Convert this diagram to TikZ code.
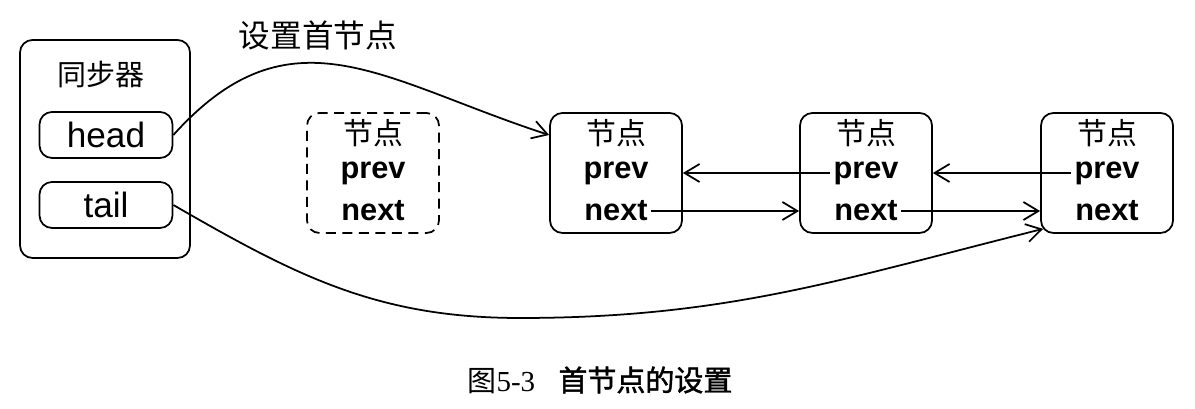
\documentclass[tikz,border=0pt]{standalone}
\usepackage{fontspec}
\setmainfont{Liberation Sans}
\newfontfamily\cjk[AutoFakeBold=1.5]{Noto Sans CJK SC}
\newfontfamily\serifnum{Liberation Serif}
\usetikzlibrary{arrows.meta}

\begin{document}
\begin{tikzpicture}[
    box/.style={draw, line width=1pt, rounded corners=2.5mm, minimum width=2.64cm, minimum height=2.4cm},
    ghost/.style={dash pattern=on 2mm off 1.3mm},
    real/.style={solid},
    field/.style={font=\fontsize{17.5}{18}\selectfont\bfseries, inner sep=2pt},
    title/.style={font=\fontsize{17}{18}\selectfont\cjk, inner sep=1pt},
    ptr/.style={-{Straight Barb[length=3mm,width=3.6mm,line width=1pt]}, line width=1pt}
  ]
  \useasboundingbox (0,0) rectangle (23.9,8.18);

  % synchronizer with head and tail
  \node[draw, line width=1pt, rounded corners=2.5mm, minimum width=3.4cm, minimum height=4.36cm] (sync) at (2.1,5.2) {};
  \node[font=\fontsize{16.5}{17}\selectfont\cjk] (synct) at (2.02,6.68) {同步器};
  \node[draw, line width=1pt, rounded corners=2.5mm, minimum width=2.66cm, minimum height=0.92cm, font=\fontsize{20}{20}\selectfont] (head) at (2.12,5.48) {head};
  \node[draw, line width=1pt, rounded corners=2.5mm, minimum width=2.66cm, minimum height=0.92cm, font=\fontsize{20}{20}\selectfont] (tail) at (2.12,4.08) {tail};

  % list nodes
  \foreach \n/\x/\s in {n0/7.46/ghost, n1/12.32/real, n2/17.32/real, n3/22.14/real} {
    \node[box, \s] (\n) at (\x,4.72) {};
    \node[title] (\n-t) at ([yshift=0.8cm]\n.center) {节点};
    \node[field] (\n-p) at (\n.center) {prev};
    \node[field] (\n-n) at ([yshift=-0.76cm]\n.center) {next};
  }

  % prev / next links
  \draw[ptr] (n2-p.west) -- (n1.east |- n2-p.west);
  \draw[ptr] (n3-p.west) -- (n2.east |- n3-p.west);
  \draw[ptr] (n1-n.east) -- (n2.west |- n1-n.east);
  \draw[ptr] (n2-n.east) -- (n3.west |- n2-n.east);

  % head and tail pointers
  \node[font=\fontsize{18}{18}\selectfont\cjk] (lbl) at (6.36,7.48) {设置首节点};
  \draw[ptr] (head.east) to[out=48, in=162, looseness=1.2] ([yshift=0.76cm]n1.west);
  \coordinate (low) at (10.4,1.82);
  \draw[ptr] (tail.east) to[out=-30, in=180] (low) to[out=0, in=194] ([xshift=0.06cm, yshift=0.1cm]n3.south west);

  % caption
  \node[font=\fontsize{16.5}{17}\selectfont] (cap) at (12.0,0.58) {{\cjk 图}{\serifnum 5-3}\hspace{0.8em}{\cjk\bfseries 首节点的设置}};
\end{tikzpicture}
\end{document}
